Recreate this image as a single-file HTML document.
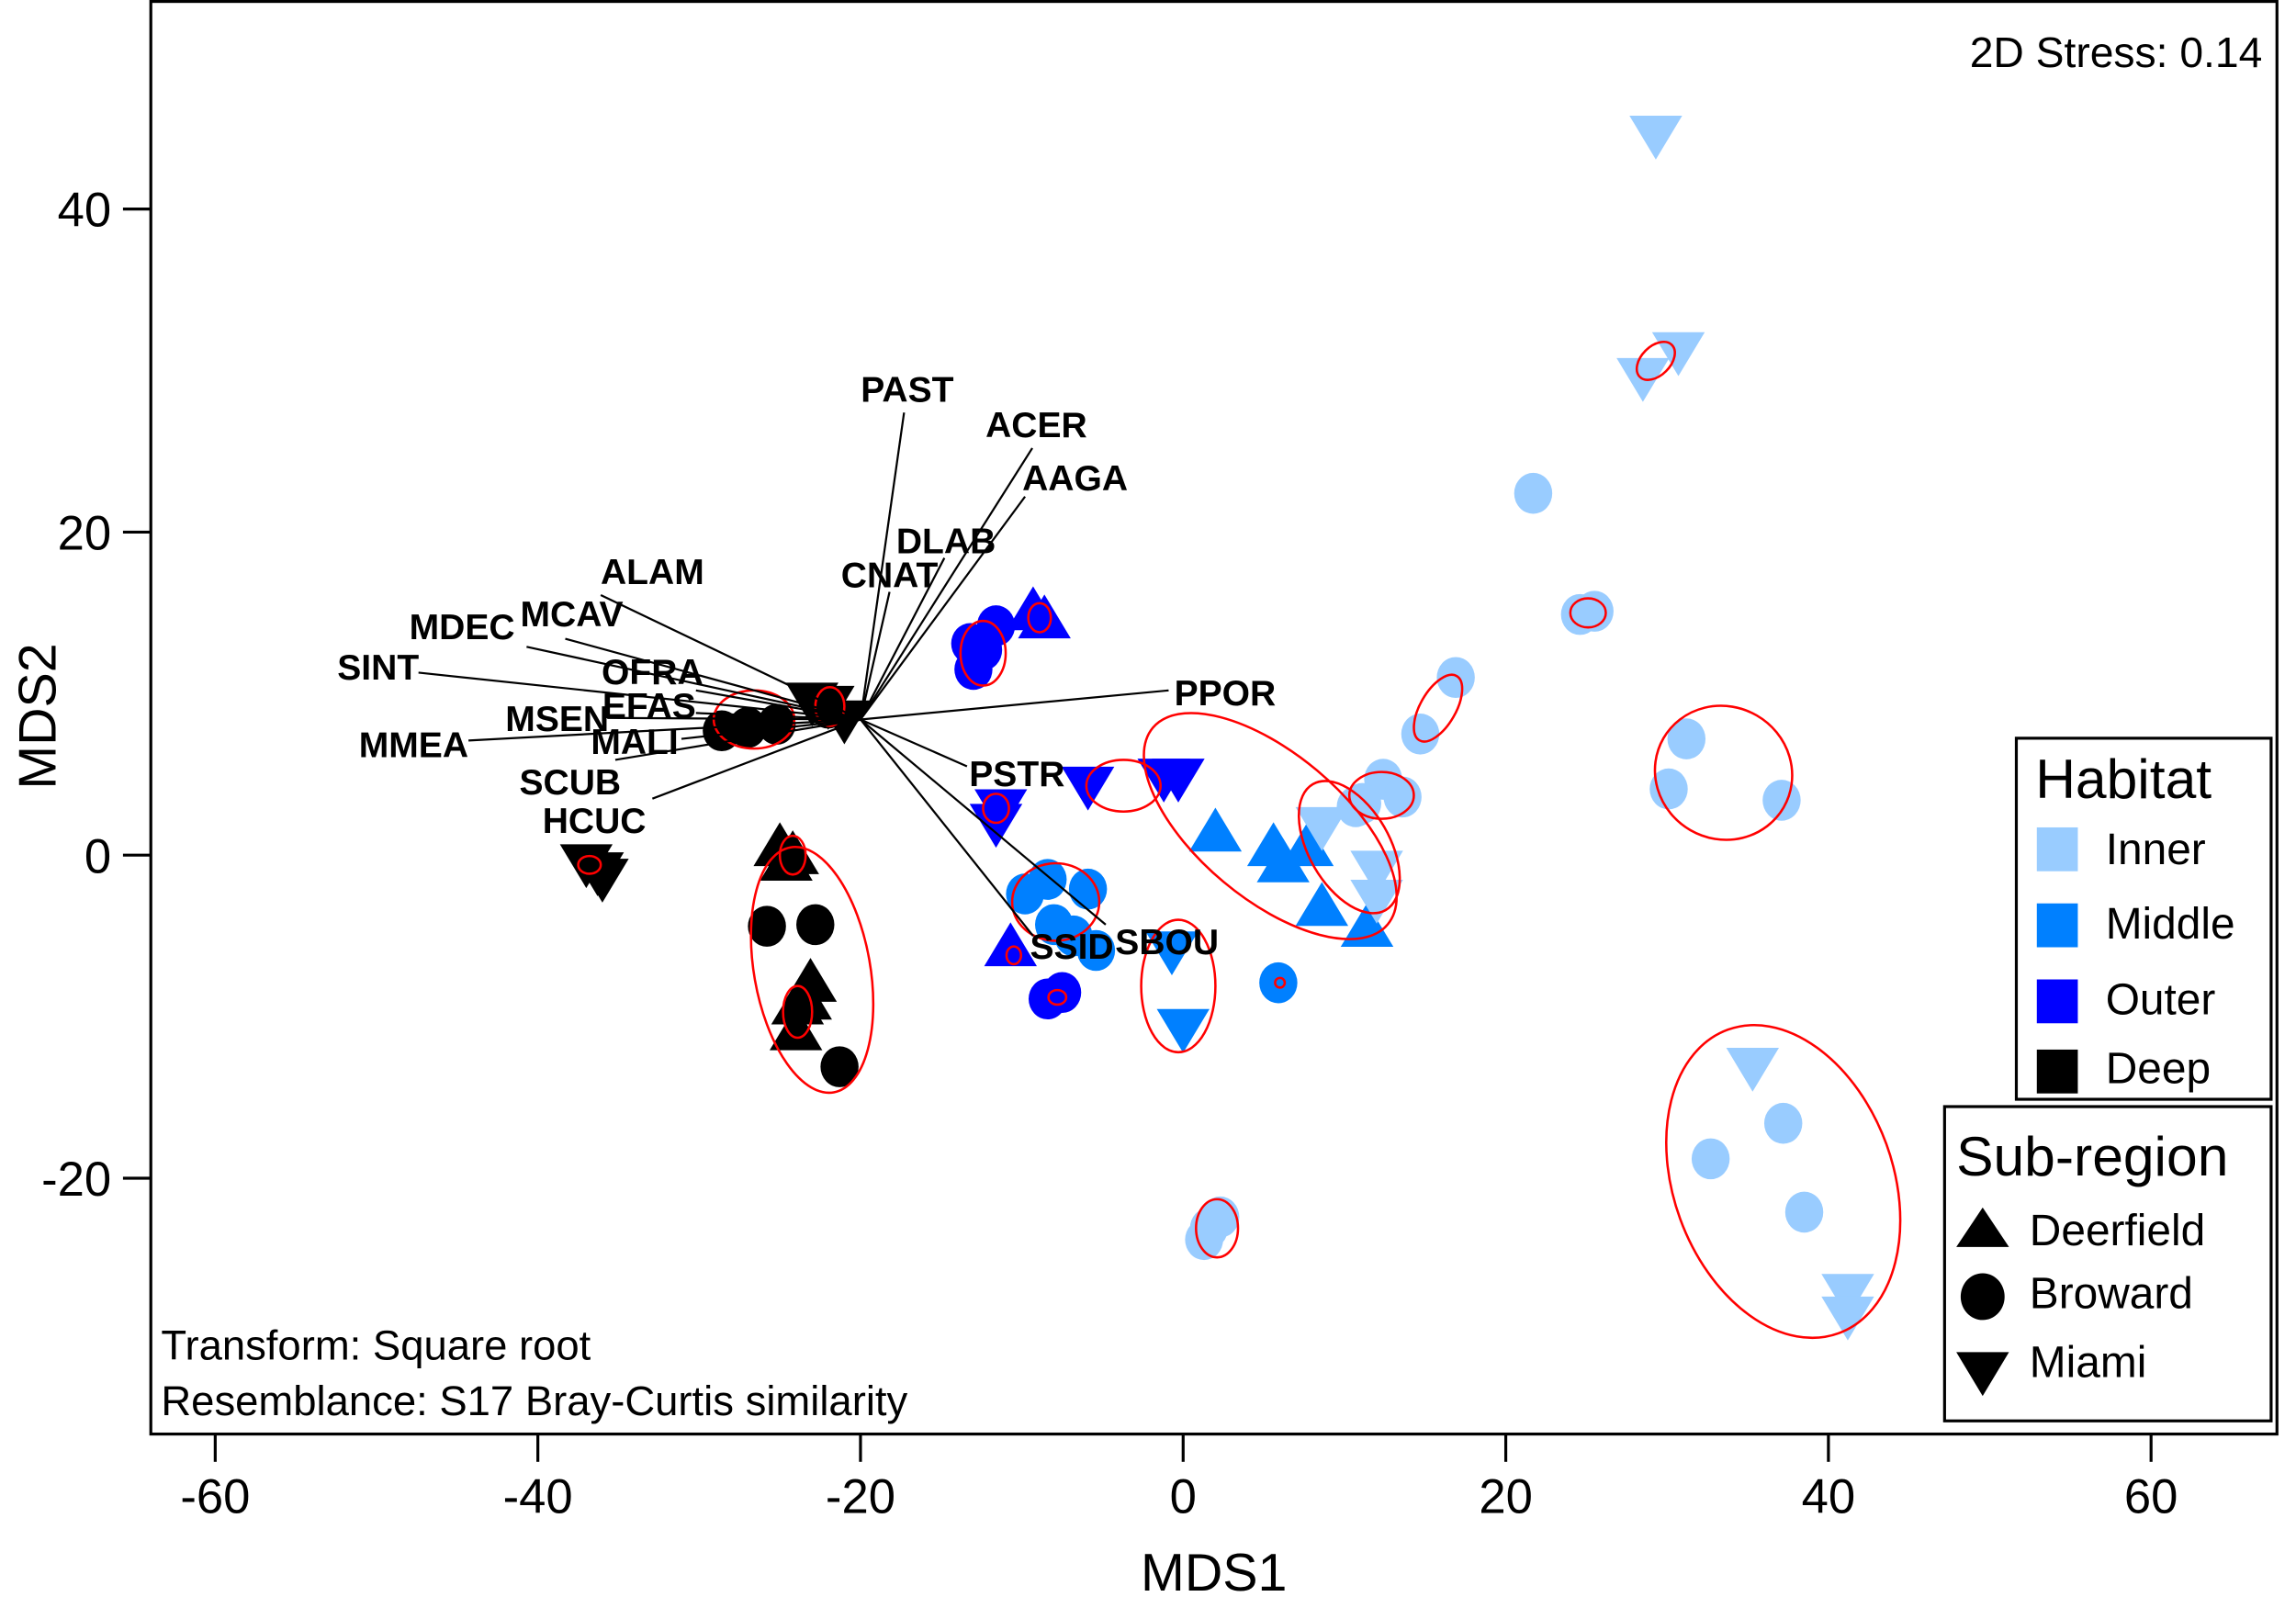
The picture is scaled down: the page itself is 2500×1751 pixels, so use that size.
<!DOCTYPE html>
<html><head><meta charset="utf-8"><style>html,body{margin:0;padding:0;background:#fff}svg{display:block;font-family:"Liberation Sans",Arial,sans-serif}</style></head>
<body>
<svg id="chart" width="2500" height="1751" viewBox="0 0 1568 1100" preserveAspectRatio="none" xmlns="http://www.w3.org/2000/svg">
<rect x="0" y="0" width="1568" height="1100" fill="#fff"/>
<g id="plot"></g>
<rect x="103" y="1" width="1452" height="980" fill="none" stroke="#000" stroke-width="2"/>
<text x="1545" y="46" font-size="29" text-anchor="end">2D Stress: 0.14</text>
<text x="110" y="930" font-size="28.5">Transform: Square root</text>
<text x="110" y="968" font-size="28.5">Resemblance: S17 Bray-Curtis similarity</text>
<text x="829" y="1088" font-size="36" text-anchor="middle">MDS1</text>
<text x="38" y="490" font-size="36" text-anchor="middle" transform="rotate(-90 38 490)">MDS2</text>
<g>
<rect x="1377" y="505" width="174" height="247" fill="#fff" stroke="#000" stroke-width="2"/>
<text x="1390" y="546" font-size="38">Habitat</text>
<rect x="1391" y="566" width="28" height="30" fill="#99ccff"/><text x="1438" y="591" font-size="30">Inner</text>
<rect x="1391" y="618" width="28" height="30" fill="#0080ff"/><text x="1438" y="642" font-size="30">Middle</text>
<rect x="1391" y="670" width="28" height="30" fill="#0000ff"/><text x="1438" y="694" font-size="30">Outer</text>
<rect x="1391" y="718" width="28" height="30" fill="#000"/><text x="1438" y="741" font-size="30">Deep</text>
</g>
<g>
<rect x="1328" y="757" width="223" height="215" fill="#fff" stroke="#000" stroke-width="2"/>
<text x="1336" y="804" font-size="38">Sub-region</text>
<polygon points="1354,826 1336,853 1372,853" fill="#000"/><text x="1386" y="852" font-size="30">Deerfield</text>
<ellipse cx="1354" cy="887" rx="15" ry="16" fill="#000"/><text x="1386" y="895" font-size="30">Broward</text>
<polygon points="1336,925 1372,925 1354,955" fill="#000"/><text x="1386" y="942" font-size="30">Miami</text>
</g>
</svg>
<script>
// axis functions
function X(v){return 808+11.017*v;}
function Y(v){return 585-11.05*v;}
var xTicks=[-60,-40,-20,0,20,40,60];
var yTicks=[-20,0,20,40];
var habitatColors={Inner:'#99ccff',Middle:'#0080ff',Outer:'#0000ff',Deep:'#000000'};
var sampleX=[-22,-23,-21,-28.6,-27,-25.2,-22,-37,-36.3,-36,-25,-24.2,-24.6,-25.8,-22.8,-21.3,-23.1,-23.9,-24,-23.4,
-13.2,-11.6,-13,-12.4,-9.3,-8.6,-11.3,-11.6,-5.9,-1.2,-0.3,-10.7,-8.4,-7.5,
-9.8,-8.4,-5.9,-6.8,-5.4,-8,-0.7,0,5.9,2,5.6,6.2,7.7,8.6,11.4,
29.3,30.7,28.5,21.7,24.6,25.5,16.9,14.7,12.4,11.1,13.6,10.7,8.6,12,12,31.2,30.1,37.1,35.3,41.2,41.2,32.7,37.2,38.5,1.6,2.3,1.3];
var sampleY=[9.3,9.5,8.4,7.7,7.9,8.1,9.1,-0.5,-1,-1.4,0.5,0,-0.4,-4.4,-4.3,-13.1,-7.9,-9.3,-10.9,-9,
13.1,14.2,11.5,12.7,15.1,14.6,2.9,2,4.3,4.8,4.8,-5.7,-8.9,-8.5,
-2.4,-1.5,-2.1,-5,-5.9,-4.3,-5.9,-10.7,-7.9,1.4,0.5,-0.5,0.5,-3.2,-4.5,
44.6,31.2,29.6,22.4,14.9,15.1,11,7.5,4.7,3.2,3.6,3,1.8,-0.9,-2.7,7.2,4.1,3.4,-13.1,-27.1,-28.5,-18.8,-16.6,-22.1,-23.1,-22.4,-23.8];
var sampleHabitat=['Deep','Deep','Deep','Deep','Deep','Deep','Deep','Deep','Deep','Deep','Deep','Deep','Deep','Deep','Deep','Deep','Deep','Deep','Deep','Deep',
'Outer','Outer','Outer','Outer','Outer','Outer','Outer','Outer','Outer','Outer','Outer','Outer','Outer','Outer',
'Middle','Middle','Middle','Middle','Middle','Middle','Middle','Middle','Middle','Middle','Middle','Middle','Middle','Middle','Middle',
'Inner','Inner','Inner','Inner','Inner','Inner','Inner','Inner','Inner','Inner','Inner','Inner','Inner','Inner','Inner','Inner','Inner','Inner','Inner','Inner','Inner','Inner','Inner','Inner','Inner','Inner','Inner'];
var sampleRegion=['M','M','M','B','B','B','B','M','M','M','D','D','D','B','B','B','D','D','D','D',
'B','B','B','B','D','D','M','M','M','M','M','D','B','B',
'B','B','B','B','B','B','M','M','B','D','D','D','D','D','D',
'M','M','M','B','B','B','B','B','B','B','B','B','M','M','M','B','B','B','M','M','M','B','B','B','B','B','B'];
var ellipseCX=[-23,-26.6,-21.9,-36.8,-24.2,-23.9,-12.4,-8.9,-11.6,-3.7,5.4,10.3,-7.9,-10.5,-7.8,-0.3,6,12.3,15.8,25.1,29.3,33.5,37.2,2.1];
var ellipseCY=[-7.1,8.4,9.2,-0.6,0,-9.7,12.5,14.7,2.9,4.3,1.8,0.5,-2.9,-6.2,-8.8,-8.1,-7.9,3.7,9.1,15,30.6,5.1,-20.2,-23.1];
var ellipseRX=[3.6,2.5,0.9,0.7,0.8,0.9,1.4,0.7,0.8,2.3,9.5,2.5,2.7,0.45,0.55,2.3,0.3,2,1.1,1.1,0.9,4.3,6.8,1.3];
var ellipseRY=[7.7,1.8,1.2,0.55,1.2,1.6,2,0.9,0.9,1.6,4.5,4.5,2.4,0.55,0.45,4.1,0.3,1.45,2.3,0.9,1.4,4.1,10,1.8];
var ellipseRot=[-10,0,0,0,0,0,0,0,0,0,40,-30,0,0,0,0,0,0,30,0,45,30,-20,0];
var vectorNames=['PAST','ACER','AAGA','DLAB','CNAT','ALAM','MCAV','MDEC','SINT','OFRA','EFAS','MSEN','MMEA','MALI','SCUB','HCUC','PPOR','PSTR','SSID','SBOU'];
var vectorEndX=[-17.3,-9.35,-9.8,-14.8,-18.2,-36.1,-38.3,-40.7,-47.4,-30.2,-30.2,-35.7,-44.3,-31.1,-35.2,-32.9,-0.9,-13.4,-9.3,-4.8];
var vectorEndY=[27.4,25.2,22.2,18.4,16.3,16.1,13.4,12.9,11.3,10.2,8.8,8.5,7.1,7.2,5.9,3.5,10.2,5.5,-5,-4.3];
var labelX=[-17.1,-9.1,-6.7,-14.7,-18.2,-32.9,-37.9,-44.7,-49.9,-32.9,-33.1,-38.8,-47.7,-34,-38,-36.5,2.6,-10.3,-6.9,-1];
var labelY=[28.8,26.6,23.3,19.4,17.3,17.5,14.9,14.1,11.6,11.3,9.2,8.4,6.8,7,4.5,2.1,10,5,-5.7,-5.4];
var vectorOrigin=[-20,8.4];

var NS='http://www.w3.org/2000/svg';
var svg=document.getElementById('chart');
var plot=document.getElementById('plot');
function mk(t,a,p){var e=document.createElementNS(NS,t);for(var k in a)e.setAttribute(k,a[k]);(p||plot).appendChild(e);return e;}
xTicks.forEach(function(v){
  var l=mk('line',{x1:X(v),x2:X(v),y1:981,y2:1000,stroke:'#000','stroke-width':2},svg);
  
  
  var t=mk('text',{x:X(v),y:1035,'font-size':33,'text-anchor':'middle'},svg);t.textContent=v;
  
  
});
yTicks.forEach(function(v){
  var l=mk('line',{x1:84,x2:103,y1:Y(v),y2:Y(v),stroke:'#000','stroke-width':2},svg);
  
  
  var t=mk('text',{x:76,y:Y(v)+12,'font-size':33,'text-anchor':'end'},svg);t.textContent=v;
  
  
});
for(var i=0;i<sampleX.length;i++){
  var cx=X(sampleX[i]),cy=Y(sampleY[i]),c=habitatColors[sampleHabitat[i]],r=sampleRegion[i],m;
  if(r==='B'){m=mk('ellipse',{cx:cx,cy:cy,rx:13,ry:14,fill:c});}
  else if(r==='D'){m=mk('polygon',{points:cx+','+(cy-17)+' '+(cx-18)+','+(cy+13)+' '+(cx+18)+','+(cy+13),fill:c});}
  else{m=mk('polygon',{points:(cx-18)+','+(cy-13)+' '+(cx+18)+','+(cy-13)+' '+cx+','+(cy+17),fill:c});}
  
  
}
for(var j=0;j<ellipseCX.length;j++){
  var ex=X(ellipseCX[j]),ey=Y(ellipseCY[j]);
  var el=mk('ellipse',{cx:ex,cy:ey,rx:ellipseRX[j]*11.017,ry:ellipseRY[j]*11.05,fill:'none',stroke:'#ff0000','stroke-width':1.6,transform:'rotate('+ellipseRot[j]+' '+ex+' '+ey+')'});
  
  
}
for(var k=0;k<vectorNames.length;k++){
  var ln=mk('line',{x1:X(vectorOrigin[0]),y1:Y(vectorOrigin[1]),x2:X(vectorEndX[k]),y2:Y(vectorEndY[k]),stroke:'#000','stroke-width':1.4});
  
  
  var tx=mk('text',{x:X(labelX[k]),y:Y(labelY[k])+8,'font-size':24.5,'font-weight':'bold','text-anchor':'middle'});
  tx.textContent=vectorNames[k];
  
  
}
</script>
</body></html>
